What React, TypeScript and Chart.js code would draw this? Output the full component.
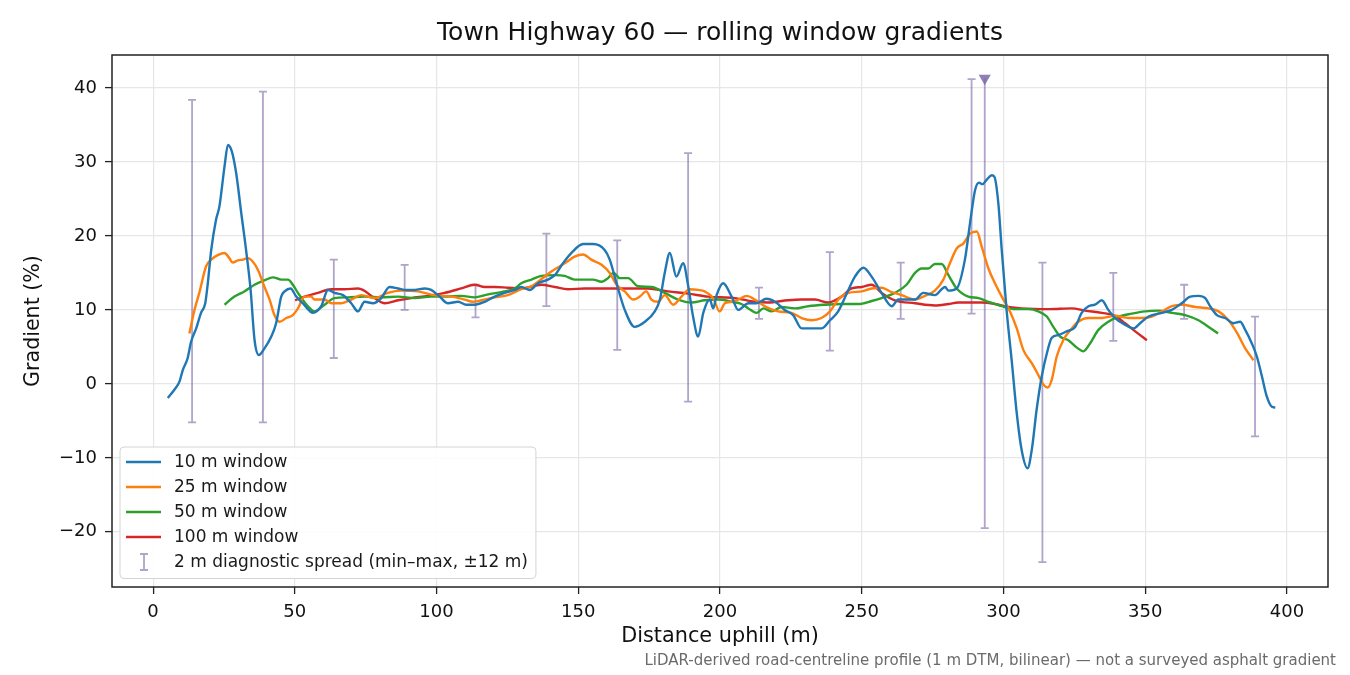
import { useEffect, useRef } from "react";
import { Chart, registerables } from "chart.js";

Chart.register(...registerables);

const FONT = "'DejaVu Sans', sans-serif";

const xTicks = [0, 50, 100, 150, 200, 250, 300, 350, 400];
const yTicks = [-20, -10, 0, 10, 20, 30, 40];

// [distance (m), gradient (%)]
const window10: [number, number][] = [
	[5.2, -1.9], [7.5, -0.8], [9.3, 0.3], [10.5, 1.9], [12.2, 3.5], [13.4, 5.7], [15.2, 7.5], [16.9, 9.6],
	[18.4, 10.9], [19.3, 13.6], [20.5, 18.1], [22.2, 22.2], [23.4, 24.0], [25.2, 29.4], [26.4, 32.3], [27.8, 31.4],
	[29.3, 28.5], [31.1, 23.1], [32.8, 18.1], [34.4, 12.7], [35.8, 5.9], [37.3, 3.9], [39.3, 4.8], [41.7, 6.4],
	[43.4, 8.2], [45.2, 11.8], [46.4, 12.5], [48.5, 12.9], [50.5, 11.8], [52.8, 10.9], [56.4, 9.6], [59.3, 10.5],
	[61.7, 12.7], [64.0, 12.3], [67.0, 12.0], [69.9, 10.9], [72.3, 9.8], [74.6, 11.1], [77.6, 10.9], [80.5, 11.6],
	[83.4, 13.1], [86.4, 12.9], [89.3, 12.7], [92.3, 12.7], [95.8, 12.9], [98.1, 12.7], [101.1, 11.8], [104.0, 10.9],
	[107.6, 11.1], [110.5, 10.7], [113.4, 10.7], [117.0, 11.1], [120.5, 11.8], [124.0, 12.3], [127.6, 12.7], [129.9, 13.1],
	[132.9, 12.7], [135.8, 13.6], [139.3, 14.1], [141.7, 14.7], [144.6, 16.3], [147.6, 17.7], [151.7, 18.9], [155.2, 18.9],
	[159.3, 18.1], [161.1, 16.8], [163.5, 13.6], [166.4, 10.0], [169.9, 7.7], [173.5, 8.4], [177.0, 9.8], [178.8, 11.4],
	[180.5, 15.0], [182.3, 17.7], [184.6, 14.5], [187.0, 16.3], [188.8, 13.2], [190.5, 9.1], [192.3, 6.4], [194.1, 9.6],
	[196.4, 11.4], [197.6, 10.2], [198.8, 12.0], [201.1, 13.6], [204.1, 11.8], [206.4, 10.0], [210.0, 10.9], [212.9, 10.9],
	[216.4, 11.5], [219.4, 11.1], [222.8, 10.0], [225.8, 9.3], [228.8, 7.5], [232.3, 7.5], [235.8, 7.5], [238.8, 8.6],
	[241.7, 9.8], [245.3, 12.7], [247.6, 14.5], [250.6, 15.7], [253.5, 14.5], [257.0, 12.3], [260.6, 10.5], [262.9, 11.4],
	[266.4, 11.4], [268.8, 11.4], [271.7, 12.3], [275.8, 12.0], [279.4, 13.1], [280.6, 12.6], [283.5, 12.9], [286.4, 16.8],
	[288.2, 21.7], [290.0, 26.2], [291.4, 27.2], [292.6, 27.0], [294.1, 27.6], [295.9, 28.2], [296.8, 28.0], [298.2, 24.4],
	[299.4, 18.1], [301.1, 10.0], [302.9, 3.2], [304.7, -4.0], [306.4, -8.9], [308.5, -11.4], [310.0, -8.9], [311.7, -3.5],
	[313.5, 1.0], [315.3, 4.1], [317.0, 6.2], [319.4, 6.6], [322.3, 7.1], [325.3, 7.7], [327.6, 9.6], [330.0, 10.5],
	[332.3, 10.7], [334.7, 11.3], [337.0, 10.0], [339.4, 8.9], [342.9, 8.0], [345.9, 7.5], [348.2, 8.2], [351.2, 9.1],
	[355.9, 9.6], [359.4, 10.0], [362.9, 10.9], [365.9, 11.8], [368.8, 11.9], [371.2, 11.6], [372.9, 10.5], [375.3, 9.3],
	[378.2, 8.9], [381.2, 8.2], [383.5, 8.4], [385.3, 7.3], [387.6, 5.5], [389.4, 3.7], [391.2, 1.0], [392.9, -1.7],
	[394.7, -3.1], [395.9, -3.2]
];

const window25: [number, number][] = [
	[12.8, 6.8], [14.6, 10.0], [16.3, 12.3], [18.7, 15.9], [20.5, 16.8], [22.8, 17.4], [25.2, 17.7], [26.9, 17.0],
	[28.1, 16.4], [29.9, 16.7], [31.7, 16.8], [33.4, 17.0], [35.2, 16.5], [37.0, 15.4], [39.3, 13.1], [41.1, 11.4],
	[42.8, 9.3], [44.6, 8.4], [47.0, 8.9], [49.3, 9.3], [51.1, 10.2], [53.4, 11.8], [55.8, 11.8], [56.9, 11.4],
	[60.5, 11.4], [62.8, 10.9], [66.4, 10.9], [69.9, 11.4], [73.4, 12.0], [78.1, 11.6], [82.8, 12.3], [87.6, 12.6],
	[93.4, 12.5], [99.3, 12.0], [105.2, 11.8], [109.9, 11.4], [112.9, 11.1], [115.8, 11.3], [120.5, 11.7], [125.2, 12.0],
	[129.9, 12.8], [133.5, 13.2], [135.8, 13.8], [140.5, 15.2], [145.2, 16.3], [148.7, 17.2], [151.7, 17.5], [154.6, 16.8],
	[158.2, 16.1], [161.1, 15.0], [163.5, 13.4], [166.4, 12.5], [169.4, 11.4], [171.7, 11.8], [174.0, 12.5], [175.8, 11.4],
	[178.2, 11.1], [180.5, 12.0], [183.5, 10.7], [186.4, 11.8], [189.3, 12.8], [192.3, 12.7], [194.6, 12.5], [197.6, 11.6],
	[199.9, 9.8], [201.7, 10.9], [204.1, 11.1], [206.4, 11.4], [209.4, 11.9], [212.3, 11.4], [215.8, 10.5], [220.5, 9.8],
	[225.2, 9.6], [228.8, 8.9], [232.3, 8.6], [235.8, 8.9], [238.8, 9.8], [241.7, 11.4], [245.3, 12.3], [250.0, 12.5],
	[253.5, 12.9], [257.0, 13.0], [260.6, 12.4], [264.1, 12.0], [268.8, 11.4], [272.3, 11.9], [275.8, 12.6], [278.8, 14.1],
	[281.1, 16.3], [283.5, 18.3], [285.9, 19.0], [288.2, 20.3], [290.6, 20.6], [292.3, 18.6], [294.7, 15.6], [297.0, 13.6],
	[299.4, 11.8], [302.3, 9.8], [304.7, 7.5], [307.0, 4.6], [310.0, 2.8], [312.3, 1.2], [314.1, -0.1], [315.6, -0.5],
	[317.0, 0.5], [318.8, 3.7], [321.1, 5.9], [324.1, 7.5], [326.4, 8.4], [330.0, 8.9], [334.7, 8.9], [339.4, 9.2],
	[344.1, 8.9], [348.8, 8.9], [352.3, 9.1], [355.9, 9.8], [359.4, 10.5], [362.9, 10.7], [367.7, 10.4], [372.4, 10.2],
	[375.9, 9.8], [379.4, 8.6], [382.4, 6.9], [385.3, 4.8], [388.2, 3.2]
];

const window50: [number, number][] = [
	[25.2, 10.7], [28.7, 11.8], [32.2, 12.5], [35.8, 13.4], [39.3, 14.0], [42.3, 14.4], [45.2, 14.1], [47.6, 14.1],
	[49.3, 13.4], [51.1, 12.3], [54.6, 10.5], [56.9, 9.8], [60.5, 10.7], [64.0, 11.6], [68.7, 11.7], [74.6, 11.8],
	[80.5, 11.7], [86.4, 11.8], [92.3, 11.6], [98.1, 11.8], [102.8, 11.8], [108.7, 11.9], [113.4, 11.7], [118.2, 12.1],
	[122.9, 12.4], [127.6, 12.9], [129.9, 13.6], [133.5, 14.1], [137.0, 14.6], [141.7, 14.7], [145.2, 14.6], [148.7, 14.1],
	[152.3, 14.1], [155.2, 14.1], [158.2, 13.8], [160.5, 14.3], [162.5, 15.0], [164.6, 14.3], [167.6, 14.3], [171.1, 13.2],
	[175.8, 13.1], [180.5, 12.3], [185.2, 11.4], [189.9, 11.0], [194.6, 11.3], [199.4, 11.4], [204.1, 11.1], [207.6, 10.8],
	[210.0, 10.2], [212.9, 9.6], [215.3, 10.2], [218.2, 9.8], [221.7, 10.4], [226.4, 10.2], [231.1, 10.5], [237.0, 10.7],
	[242.9, 10.8], [248.8, 10.8], [253.5, 11.2], [257.0, 11.6], [261.7, 12.3], [265.8, 13.4], [268.8, 15.0], [271.1, 15.6],
	[273.5, 15.6], [275.8, 16.2], [278.2, 16.2], [280.6, 14.7], [283.5, 12.9], [287.6, 11.8], [291.2, 11.6], [294.7, 11.1],
	[299.4, 10.5], [304.1, 10.1], [308.8, 10.1], [312.3, 9.8], [315.3, 9.1], [317.6, 7.7], [320.0, 6.4], [322.9, 5.9],
	[325.9, 4.9], [328.2, 4.4], [330.6, 5.5], [333.5, 7.3], [337.0, 8.4], [340.6, 9.1], [345.3, 9.5], [350.0, 9.8],
	[354.7, 9.9], [359.4, 9.6], [364.1, 9.3], [368.8, 8.6], [372.4, 7.7], [375.7, 6.8]
];

const window100: [number, number][] = [
	[50.1, 11.3], [53.4, 11.8], [58.1, 12.3], [62.8, 12.8], [67.5, 12.8], [72.3, 12.9], [74.0, 12.7], [78.1, 11.6],
	[81.7, 10.9], [86.4, 11.3], [91.1, 11.6], [97.0, 11.9], [102.8, 12.3], [108.7, 12.9], [113.4, 13.4], [117.0, 13.1],
	[120.5, 13.1], [125.2, 13.0], [129.9, 12.9], [137.0, 13.4], [141.7, 13.1], [146.4, 12.8], [152.3, 12.9], [164.1, 12.9],
	[174.6, 12.9], [181.7, 12.5], [188.8, 12.2], [195.8, 11.8], [205.2, 11.6], [212.3, 11.1], [217.0, 11.0], [224.0, 11.3],
	[228.8, 11.4], [233.5, 11.4], [238.2, 11.0], [242.9, 11.8], [246.4, 12.9], [250.0, 13.1], [253.5, 13.4], [257.0, 12.3],
	[261.7, 11.3], [268.8, 10.9], [275.8, 10.6], [280.6, 10.8], [284.1, 11.0], [292.3, 11.0], [297.0, 10.8], [301.7, 10.4],
	[306.4, 10.2], [315.9, 10.1], [324.1, 10.2], [328.8, 9.9], [334.7, 9.6], [339.4, 9.2], [342.9, 8.2], [346.5, 7.1],
	[350.6, 5.9]
];

const seriesLabels = ["10 m window", "25 m window", "50 m window", "100 m window"];
const seriesColors = ["#1f77b4", "#ff7f0e", "#2ca02c", "#d62728"];
const seriesData = [window10, window25, window50, window100];

// 2 m diagnostic spread, min–max within ±12 m
const spreadX = [13.75, 38.75, 63.75, 88.75, 113.75, 138.75, 163.75, 188.75, 213.75, 238.75, 263.75, 288.75, 313.75, 338.75, 363.75, 388.75];
const spreadMin = [-5.2, -5.2, 3.5, 10.0, 9.0, 10.5, 4.6, -2.4, 8.8, 4.5, 8.8, 9.5, -24.1, 5.8, 8.8, -7.1];
const spreadMax = [38.4, 39.5, 16.8, 16.1, 13.4, 20.3, 19.4, 31.2, 13.0, 17.8, 16.4, 41.2, 16.4, 15.0, 13.4, 9.1];

// spread that runs off the top, flagged with a marker
const clippedX = [293.4];
const clippedMin = [-19.5];
const clippedMax = [41.3];

const spreadLabel = "2 m diagnostic spread (min\u2013max, \u00b112 m)";
const SPREAD_COLOR = "rgba(123, 104, 166, 0.6)";
const MARKER_COLOR = "rgba(123, 104, 166, 0.85)";

const titleText = "Town Highway 60 \u2014 rolling window gradients";
const footText = "LiDAR-derived road-centreline profile (1 m DTM, bilinear) \u2014 not a surveyed asphalt gradient";

const fmt = (v: number) => String(v).replace("-", "\u2212");

function drawBar(ctx: CanvasRenderingContext2D, px: number, top: number, bottom: number, capTop: boolean) {
	const cap = 4;
	ctx.beginPath();
	ctx.moveTo(px, top);
	ctx.lineTo(px, bottom);
	if (capTop) {
		ctx.moveTo(px - cap, top);
		ctx.lineTo(px + cap, top);
	}
	ctx.moveTo(px - cap, bottom);
	ctx.lineTo(px + cap, bottom);
	ctx.stroke();
}

const spreadPlugin = {
	id: "spread",
	beforeDatasetsDraw(chart: any) {
		const { ctx, chartArea, scales } = chart;
		const { x, y } = scales;
		ctx.save();
		ctx.beginPath();
		ctx.rect(chartArea.left, chartArea.top, chartArea.right - chartArea.left, chartArea.bottom - chartArea.top);
		ctx.clip();
		ctx.strokeStyle = SPREAD_COLOR;
		ctx.lineWidth = 1.8;
		spreadX.forEach((v, i) => {
			drawBar(ctx, x.getPixelForValue(v), y.getPixelForValue(spreadMax[i]), y.getPixelForValue(spreadMin[i]), true);
		});
		clippedX.forEach((v, i) => {
			drawBar(ctx, x.getPixelForValue(v), y.getPixelForValue(clippedMax[i]), y.getPixelForValue(clippedMin[i]), false);
		});
		ctx.restore();
	}
};

const decorPlugin = {
	id: "decor",
	afterDatasetsDraw(chart: any) {
		const { ctx, chartArea } = chart;
		ctx.save();
		ctx.strokeStyle = "#222";
		ctx.lineWidth = 1.5;
		ctx.strokeRect(chartArea.left, chartArea.top, chartArea.right - chartArea.left, chartArea.bottom - chartArea.top);
		ctx.restore();
	},
	afterDraw(chart: any) {
		const { ctx, chartArea } = chart;
		ctx.save();
		// title
		ctx.fillStyle = "#111";
		ctx.font = `25px ${FONT}`;
		ctx.textAlign = "center";
		ctx.textBaseline = "middle";
		ctx.fillText(titleText, (chartArea.left + chartArea.right) / 2, 33);
		// footnote
		ctx.fillStyle = "#6b6b6b";
		ctx.font = `15px ${FONT}`;
		ctx.textAlign = "right";
		ctx.textBaseline = "alphabetic";
		ctx.fillText(footText, 1336, 665);

		// legend
		ctx.font = `17px ${FONT}`;
		const labels = [...seriesLabels, spreadLabel];
		const textW = Math.max(...labels.map((l) => ctx.measureText(l).width));
		const rowH = 25;
		const left = chartArea.left + 8;
		const bottom = chartArea.bottom - 8.5;
		const height = 15 + rowH * (labels.length - 1) + 16.5;
		const top = bottom - height;
		const width = 54 + textW + 8;
		ctx.beginPath();
		ctx.roundRect(left, top, width, height, 4);
		ctx.fillStyle = "rgba(255,255,255,0.85)";
		ctx.fill();
		ctx.strokeStyle = "#d4d4d4";
		ctx.lineWidth = 1;
		ctx.stroke();
		ctx.textAlign = "left";
		ctx.textBaseline = "middle";
		labels.forEach((label, i) => {
			const cy = top + 15 + i * rowH;
			if (i < seriesLabels.length) {
				ctx.strokeStyle = seriesColors[i];
				ctx.lineWidth = 2.4;
				ctx.beginPath();
				ctx.moveTo(left + 6, cy);
				ctx.lineTo(left + 41, cy);
				ctx.stroke();
			} else {
				ctx.strokeStyle = SPREAD_COLOR;
				ctx.lineWidth = 1.8;
				drawBar(ctx, left + 24, cy - 8, cy + 8, true);
			}
			ctx.fillStyle = "#1a1a1a";
			ctx.fillText(label, left + 54, cy + 1);
		});
		ctx.restore();
	}
};

export default function App() {
	const canvasRef = useRef<HTMLCanvasElement>(null);

	useEffect(() => {
		if (!canvasRef.current) return;

		const lineSets = seriesData.map((pts, i) => ({
			label: seriesLabels[i],
			data: pts.map(([x, y]) => ({ x, y })),
			borderColor: seriesColors[i],
			backgroundColor: seriesColors[i],
			borderWidth: 2.4,
			pointRadius: 0,
			cubicInterpolationMode: "monotone" as const,
			fill: false
		}));

		const chart = new Chart(canvasRef.current, {
			type: "line",
			data: {
				datasets: [
					...lineSets,
					{
						label: "clipped spread",
						data: clippedX.map((x, i) => ({ x, y: clippedMax[i] })),
						showLine: false,
						pointStyle: "triangle",
						rotation: 180,
						pointRadius: 7,
						borderWidth: 0,
						backgroundColor: MARKER_COLOR,
						borderColor: MARKER_COLOR
					} as any
				]
			},
			options: {
				responsive: false,
				animation: false,
				clip: false as any,
				layout: { padding: { left: 0, right: 22, top: 55, bottom: 0 } },
				plugins: {
					legend: { display: false },
					title: { display: false },
					tooltip: { enabled: false }
				},
				scales: {
					x: {
						type: "linear",
						min: -14.5,
						max: 414.5,
						afterBuildTicks: (s: any) => {
							s.ticks = xTicks.map((value) => ({ value }));
						},
						afterFit: (s: any) => {
							s.height = 88;
						},
						grid: { color: "#e6e6e6", lineWidth: 1.2, tickColor: "#222", tickLength: 7, tickWidth: 1.3 },
						border: { display: false },
						ticks: {
							color: "#111",
							font: { family: FONT, size: 18 },
							padding: 8,
							maxRotation: 0,
							autoSkip: false,
							callback: (v: any) => fmt(Number(v))
						},
						title: {
							display: true,
							text: "Distance uphill (m)",
							color: "#111",
							font: { family: FONT, size: 20.8 },
							padding: { top: 0, bottom: 26 }
						}
					},
					y: {
						type: "linear",
						min: -27.46,
						max: 44.46,
						afterBuildTicks: (s: any) => {
							s.ticks = yTicks.map((value) => ({ value }));
						},
						afterFit: (s: any) => {
							s.width = 112;
						},
						grid: { color: "#e6e6e6", lineWidth: 1.2, tickColor: "#222", tickLength: 7, tickWidth: 1.3 },
						border: { display: false },
						ticks: {
							color: "#111",
							font: { family: FONT, size: 18 },
							padding: 8,
							autoSkip: false,
							callback: (v: any) => fmt(Number(v))
						},
						title: {
							display: true,
							text: "Gradient (%)",
							color: "#111",
							font: { family: FONT, size: 20.6 },
							padding: { top: 21, bottom: 0 }
						}
					}
				}
			},
			plugins: [spreadPlugin, decorPlugin]
		});

		return () => chart.destroy();
	}, []);

	return (
		<div style={{ position: "absolute", left: 0, top: 0, width: 1350, height: 675, background: "#fff" }}>
			<canvas ref={canvasRef} width={1350} height={675} />
		</div>
	);
}
